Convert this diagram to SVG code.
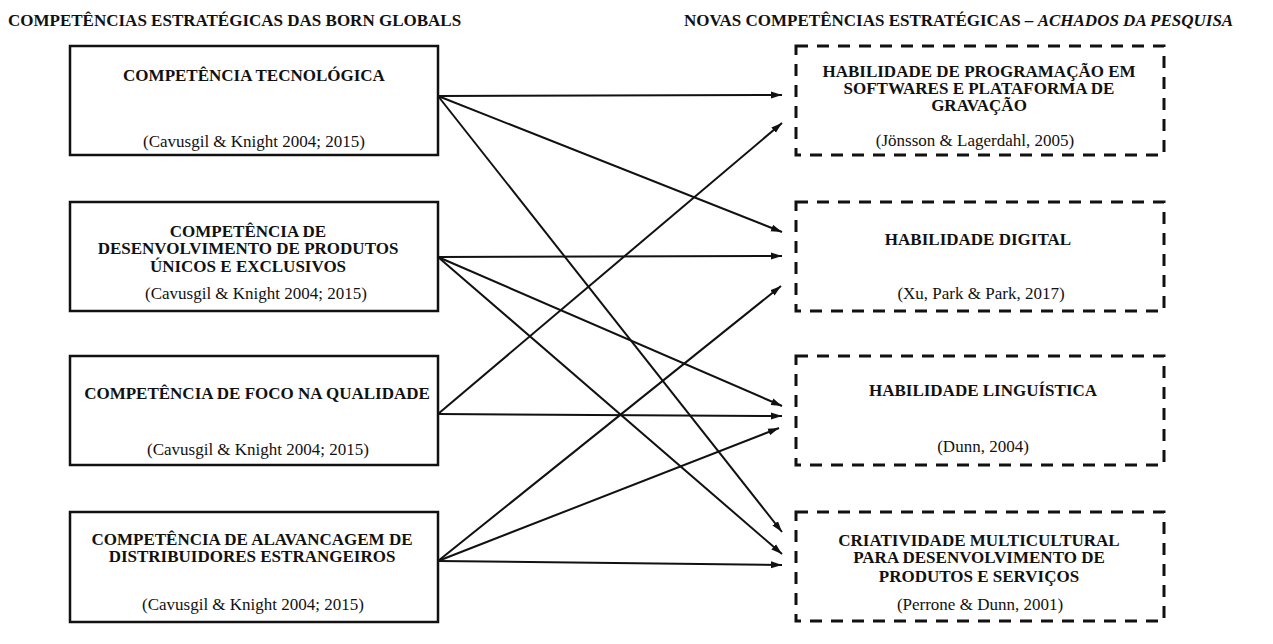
<svg xmlns="http://www.w3.org/2000/svg" width="1273" height="644" viewBox="0 0 1273 644">
<style>
  text { font-family: "Liberation Serif", "Times New Roman", serif; fill: #111; }
  .title { font-size: 17px; font-weight: bold; }
  .h { font-size: 17px; font-weight: bold; text-anchor: middle; }
  .c { font-size: 17px; text-anchor: middle; }
  .lbox { fill: #fff; stroke: #111; stroke-width: 2.5; }
  .rbox { fill: #fff; stroke: #111; stroke-width: 3; stroke-dasharray: 12 9; }
  .conn line { stroke: #111; stroke-width: 2; marker-end: url(#arr); }
</style>
<defs>
  <marker id="arr" markerUnits="userSpaceOnUse" markerWidth="12" markerHeight="8" refX="11" refY="4" orient="auto">
    <path d="M0,0.5 L11,4 L0,7.5 z" fill="#111"/>
  </marker>
</defs>
<rect width="1273" height="644" fill="#fff"/>

<text class="title" x="8" y="26">COMPETÊNCIAS ESTRATÉGICAS DAS BORN GLOBALS</text>
<text class="title" x="684" y="26">NOVAS COMPETÊNCIAS ESTRATÉGICAS – <tspan font-style="italic">ACHADOS DA PESQUISA</tspan></text>

<g id="L1">
  <rect class="lbox" x="70" y="46" width="368" height="109"/>
  <text class="h" x="254" y="81">COMPETÊNCIA TECNOLÓGICA</text>
  <text class="c" x="254" y="147">(Cavusgil &amp; Knight 2004; 2015)</text>
</g>
<g id="L2">
  <rect class="lbox" x="70" y="202" width="368" height="109"/>
  <text class="h" x="248" y="237">COMPETÊNCIA DE</text>
  <text class="h" x="248" y="254">DESENVOLVIMENTO DE PRODUTOS</text>
  <text class="h" x="248" y="272">ÚNICOS E EXCLUSIVOS</text>
  <text class="c" x="256" y="299">(Cavusgil &amp; Knight 2004; 2015)</text>
</g>
<g id="L3">
  <rect class="lbox" x="70" y="356" width="368" height="109"/>
  <text class="h" x="257" y="399">COMPETÊNCIA DE FOCO NA QUALIDADE</text>
  <text class="c" x="258" y="455">(Cavusgil &amp; Knight 2004; 2015)</text>
</g>
<g id="L4">
  <rect class="lbox" x="70" y="512" width="368" height="110"/>
  <text class="h" x="252" y="545">COMPETÊNCIA DE ALAVANCAGEM DE</text>
  <text class="h" x="252" y="562">DISTRIBUIDORES ESTRANGEIROS</text>
  <text class="c" x="253" y="610">(Cavusgil &amp; Knight 2004; 2015)</text>
</g>

<g id="R1">
  <rect class="rbox" x="796" y="46" width="368" height="109"/>
  <text class="h" x="979" y="77">HABILIDADE DE PROGRAMAÇÃO EM</text>
  <text class="h" x="979" y="94">SOFTWARES E PLATAFORMA DE</text>
  <text class="h" x="979" y="111">GRAVAÇÃO</text>
  <text class="c" x="975" y="146">(Jönsson &amp; Lagerdahl, 2005)</text>
</g>
<g id="R2">
  <rect class="rbox" x="796" y="202" width="368" height="109"/>
  <text class="h" x="978" y="245">HABILIDADE DIGITAL</text>
  <text class="c" x="981" y="299">(Xu, Park &amp; Park, 2017)</text>
</g>
<g id="R3">
  <rect class="rbox" x="796" y="356" width="368" height="109"/>
  <text class="h" x="983" y="396">HABILIDADE LINGUÍSTICA</text>
  <text class="c" x="983" y="452">(Dunn, 2004)</text>
</g>
<g id="R4">
  <rect class="rbox" x="796" y="512" width="368" height="109"/>
  <text class="h" x="979" y="546">CRIATIVIDADE MULTICULTURAL</text>
  <text class="h" x="979" y="563">PARA DESENVOLVIMENTO DE</text>
  <text class="h" x="979" y="582">PRODUTOS E SERVIÇOS</text>
  <text class="c" x="980" y="610">(Perrone &amp; Dunn, 2001)</text>
</g>

<g id="connectors" class="conn">
  <line x1="438" y1="96" x2="782" y2="95"/>
  <line x1="438" y1="96" x2="782" y2="232"/>
  <line x1="438" y1="96" x2="782" y2="532"/>
  <line x1="438" y1="257" x2="782" y2="256"/>
  <line x1="438" y1="257" x2="782" y2="406"/>
  <line x1="438" y1="257" x2="782" y2="554"/>
  <line x1="438" y1="414" x2="782" y2="123"/>
  <line x1="438" y1="414" x2="782" y2="416"/>
  <line x1="438" y1="561" x2="781" y2="286"/>
  <line x1="438" y1="561" x2="779" y2="428"/>
  <line x1="438" y1="561" x2="782" y2="565"/>
</g>
</svg>
